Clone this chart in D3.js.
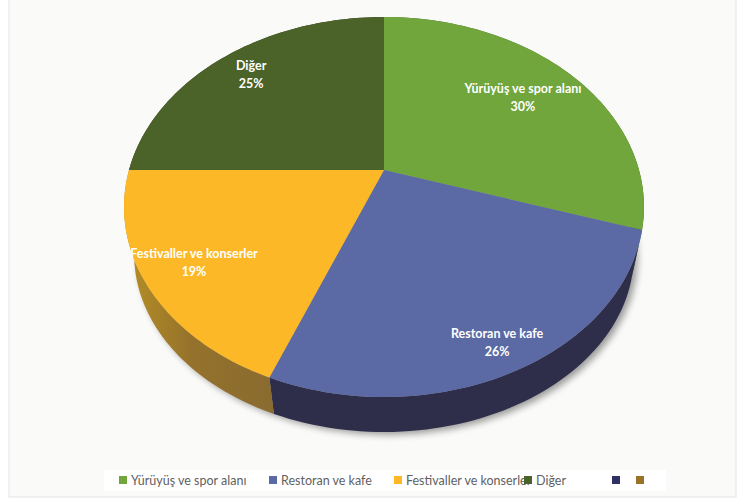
<!DOCTYPE html>
<html><head><meta charset="utf-8">
<script src="https://cdn.jsdelivr.net/npm/d3@7/dist/d3.min.js"></script>
<style>html,body{margin:0;padding:0;background:#fff}svg{display:block}</style>
</head><body><svg id="c" width="748" height="501"></svg>
<script>
const categories = ["Yürüyüş ve spor alanı","Restoran ve kafe","Festivaller ve konserler","Diğer"];
const values = [30,26,19,25];
const topColors = ["#70a63c","#5b69a4","#fdb827","#4b6229"];
const sideColors = ["#46672a","#2f2e4a","#8f6c2c","#2f3a1c"];
const legendLabels = ["Yürüyüş ve spor alanı","Restoran ve kafe","Festivaller ve konserler","Diğer","",""];
const legendColors = ["#70a63c","#5b69a4","#fdb827","#4b6229","#2f3262","#9a7127"];

const W=748,H=501,FONT="Lato, 'Open Sans', sans-serif";
const svg=d3.select("#c");
const defs=svg.append("defs");
const f=defs.append("filter").attr("id","sh").attr("x","-20%").attr("y","-20%").attr("width","140%").attr("height","140%");
f.append("feGaussianBlur").attr("stdDeviation",3.5);
const g=defs.append("linearGradient").attr("id","ySide").attr("x1","0").attr("x2","1").attr("y1","0").attr("y2","0");
g.append("stop").attr("offset","0").attr("stop-color","#b88f24");
g.append("stop").attr("offset","0.45").attr("stop-color","#94722c");
g.append("stop").attr("offset","1").attr("stop-color","#8a6b30");

// page panel
svg.append("rect").attr("width",W).attr("height",H).attr("fill","#fff");
svg.append("rect").attr("x",9).attr("y",-2).attr("width",727).attr("height",499)
  .attr("fill","#fafaf9").attr("stroke","#e4e4e4").attr("stroke-width",1);

// perspective projection: unit disc -> screen
const K=0.1947;
const topP=(u,v)=>{const d=1-K*v;return [384+255*u/d,(170+149.7*v)/d];};
const baseP=(u,v)=>{const d=1-K*v;return [384+245*u/d,(220.5+127.4*v)/d];};
const pol=(a,r=1)=>[r*Math.sin(a),-r*Math.cos(a)];
const pie=d3.pie().sort(null).value(d=>d)(values);
const line=d3.line();
const arcPts=(a0,a1,P)=>d3.range(0,61).map(i=>P(...pol(a0+(a1-a0)*i/60)));

// drop shadow of the base
svg.append("path").attr("d",line(arcPts(0,2*Math.PI,(u,v)=>{const p=baseP(u,v);return [p[0]+4,p[1]+3];}))+"Z")
  .attr("fill","#000").attr("opacity",0.38).attr("filter","url(#sh)");

// side walls
pie.forEach((s,i)=>{
  const top=arcPts(s.startAngle,s.endAngle,topP), base=arcPts(s.startAngle,s.endAngle,baseP).reverse();
  svg.append("path").attr("d",line(top.concat(base))+"Z")
    .attr("fill",i===2?"url(#ySide)":sideColors[i]);
});
// top surface
pie.forEach((s,i)=>{
  const pts=[topP(0,0)].concat(arcPts(s.startAngle,s.endAngle,topP));
  svg.append("path").attr("d",line(pts)+"Z").attr("fill",topColors[i]);
});
// data labels
const labelR=[0.73,0.88,0.82,0.82];
pie.forEach((s,i)=>{
  const p=topP(...pol((s.startAngle+s.endAngle)/2,labelR[i]));
  const t=svg.append("text").attr("text-anchor","middle").attr("fill","#fff")
    .attr("font-family",FONT).attr("font-weight",700).attr("font-size",12.5);
  t.append("tspan").attr("x",p[0]).attr("y",p[1]-4.5).text(categories[i]);
  t.append("tspan").attr("x",p[0]).attr("y",p[1]+13.5).text(values[i]+"%");
});
// legend
svg.append("rect").attr("x",104).attr("y",470).attr("width",562).attr("height",21).attr("fill","#fff");
const lx=d3.scaleOrdinal().domain(d3.range(6)).range([119,269,394,524,612,636]);
legendLabels.forEach((l,i)=>{
  svg.append("rect").attr("x",lx(i)).attr("y",476).attr("width",8).attr("height",8).attr("fill",legendColors[i]);
  if(l) svg.append("text").attr("x",lx(i)+12).attr("y",484.5).attr("fill","#5f5f5f")
    .attr("font-family",FONT).attr("font-size",12.5).text(l);
});
</script></body></html>
